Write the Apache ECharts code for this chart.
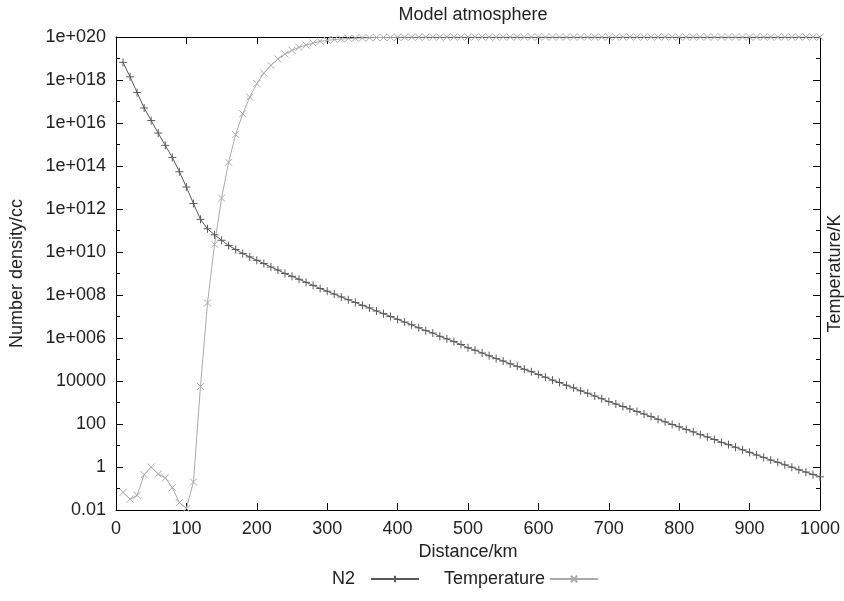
<!DOCTYPE html>
<html>
<head>
<meta charset="utf-8">
<script src="https://cdn.jsdelivr.net/npm/echarts@6/dist/echarts.min.js"></script>
<style>
  html, body { margin: 0; padding: 0; background: #fff; }
  #main { width: 844px; height: 601px; }
</style>
</head>
<body>
<div id="main"></div>
<script>
// 高度 (km)
var distance = [10, 20, 30, 40, 50, 60, 70, 80, 90, 100,
  110, 120, 130, 140, 150, 160, 170, 180, 190, 200,
  210, 220, 230, 240, 250, 260, 270, 280, 290, 300,
  310, 320, 330, 340, 350, 360, 370, 380, 390, 400,
  410, 420, 430, 440, 450, 460, 470, 480, 490, 500,
  510, 520, 530, 540, 550, 560, 570, 580, 590, 600,
  610, 620, 630, 640, 650, 660, 670, 680, 690, 700,
  710, 720, 730, 740, 750, 760, 770, 780, 790, 800,
  810, 820, 830, 840, 850, 860, 870, 880, 890, 900,
  910, 920, 930, 940, 950, 960, 970, 980, 990, 1000];

// N2 数密度 /cc
var n2 = [6.6e18, 1.4e18, 2.6e17, 5.0e16, 1.3e16, 3.4e15, 9.1e14, 2.5e14, 5.4e13, 1.05e13,
  1.8e12, 3.3e11, 1.2e11, 6.3e10, 3.5e10, 2.0e10, 1.3e10, 8.5e9, 5.9e9, 4.1e9,
  2.9e9, 2.0e9, 1.45e9, 1.0e9, 7.4e8, 5.4e8, 3.9e8, 2.8e8, 2.0e8, 1.5e8,
  1.1e8, 8.1e7, 6.0e7, 4.5e7, 3.3e7, 2.5e7, 1.8e7, 1.35e7, 1.0e7, 7.4e6,
  5.5e6, 4.1e6, 3.0e6, 2.2e6, 1.7e6, 1.2e6, 9.1e5, 6.8e5, 5.0e5, 3.5e5,
  2.7e5, 2.0e5, 1.5e5, 1.1e5, 8.5e4, 6.3e4, 4.8e4, 3.5e4, 2.7e4, 2.0e4,
  1.5e4, 1.1e4, 8.5e3, 6.3e3, 4.8e3, 3.5e3, 2.7e3, 2.0e3, 1.5e3, 1.1e3,
  850, 650, 500, 380, 290, 220, 166, 126, 95, 74,
  56, 43, 32, 25, 19, 14, 11, 8.3, 6.3, 4.8,
  3.6, 2.8, 2.1, 1.66, 1.26, 0.98, 0.74, 0.58, 0.45, 0.35];

// 温度 (右轴)
var temperature = [0.066, 0.032, 0.048, 0.44, 1.0, 0.47, 0.31, 0.11, 0.022, 0.012,
  0.2, 5600, 4.3e7, 2.3e10, 3.2e12, 1.5e14, 2.9e15, 2.7e16, 1.6e17, 6.8e17,
  2.1e18, 4.8e18, 9.5e18, 1.6e19, 2.4e19, 3.3e19, 4.2e19, 5.2e19, 6.3e19, 7.0e19,
  7.6e19, 8.1e19, 8.5e19, 8.8e19, 9.0e19, 9.2e19, 9.4e19, 9.5e19, 9.6e19, 9.7e19,
  9.75e19, 9.8e19, 9.82e19, 9.85e19, 9.87e19, 9.89e19, 9.9e19, 9.91e19, 9.92e19, 9.93e19,
  9.94e19, 9.94e19, 9.94e19, 9.94e19, 9.94e19, 9.95e19, 9.95e19, 9.95e19, 9.95e19, 9.95e19,
  9.96e19, 9.96e19, 9.96e19, 9.96e19, 9.96e19, 9.97e19, 9.97e19, 9.97e19, 9.97e19, 9.97e19,
  9.98e19, 9.98e19, 9.98e19, 9.98e19, 9.98e19, 9.98e19, 9.98e19, 9.98e19, 9.98e19, 9.98e19,
  9.99e19, 9.99e19, 9.99e19, 9.99e19, 9.99e19, 9.99e19, 9.99e19, 9.99e19, 9.99e19, 9.99e19,
  9.99e19, 9.99e19, 9.99e19, 9.99e19, 9.99e19, 1e20, 1e20, 1e20, 1e20, 1e20];

var yMin = 0.01, yMax = 1e20;
var fontFam = '"Liberation Sans", Arial, sans-serif';
var textCol = '#222';
var fs = 18;

function pairs(xs, ys) {
  var out = [];
  for (var i = 0; i < xs.length; i++) out.push([xs[i], ys[i]]);
  return out;
}

// 1e+020 样式的刻度标签
function fmtY(v) {
  var e = Math.round(Math.log(v) / Math.LN10);
  if (e >= 6) return '1e+' + ('00' + e).slice(-3);
  return String(Math.pow(10, e));
}

function logAxis(pos, interval, tickLen, showLine, showLabel) {
  return {
    type: 'log', logBase: 10, min: yMin, max: yMax, interval: interval,
    position: pos,
    axisLine: { show: showLine, lineStyle: { color: '#000', width: 1 } },
    axisTick: { show: true, inside: true, length: tickLen, lineStyle: { color: '#000', width: 1 } },
    axisLabel: { show: showLabel, formatter: fmtY, margin: 10, color: textCol, fontSize: fs, fontFamily: fontFam },
    splitLine: { show: false }
  };
}

var plusPath = 'path://M0,5L10,5M5,0L5,10';
var crossPath = 'path://M0,0L10,10M10,0L0,10';

var chart = echarts.init(document.getElementById('main'));
var option = {
  animation: false,
  backgroundColor: '#fff',
  title: {
    text: 'Model atmosphere', left: 468, top: 1, textAlign: 'center',
    textStyle: { fontSize: fs, fontWeight: 'normal', color: textCol, fontFamily: fontFam }
  },
  legend: {
    top: 565, left: 327, align: 'right',
    itemWidth: 48, itemHeight: 8, itemGap: 24,
    textStyle: { fontSize: fs, color: textCol, fontFamily: fontFam },
    data: [
      { name: 'N2', textStyle: { padding: [0, 11, 0, 0] } },
      { name: 'Temperature', textStyle: { padding: [0, 0, 0, 0] } }
    ]
  },
  grid: { left: 116, right: 24, top: 37, bottom: 91, outerBoundsMode: 'none' },
  xAxis: [
    {
      type: 'value', min: 0, max: 1000, interval: 100, position: 'bottom',
      name: 'Distance/km', nameLocation: 'middle', nameGap: 33,
      nameTextStyle: { fontSize: fs, color: textCol, fontFamily: fontFam },
      axisLine: { lineStyle: { color: '#000', width: 1 } },
      axisTick: { inside: true, length: 7, lineStyle: { color: '#000' } },
      axisLabel: { margin: 10, color: textCol, fontSize: fs, fontFamily: fontFam,
        formatter: function (v) { return String(v); } },
      splitLine: { show: false }
    },
    {
      type: 'value', min: 0, max: 1000, interval: 100, position: 'top',
      axisLine: { lineStyle: { color: '#000', width: 1 } },
      axisTick: { inside: true, length: 7, lineStyle: { color: '#000' } },
      axisLabel: { show: false },
      splitLine: { show: false }
    }
  ],
  yAxis: [
    Object.assign(logAxis('left', 2, 7, true, true), {
      name: 'Number density/cc', nameLocation: 'middle', nameGap: 90, nameRotate: 90,
      nameTextStyle: { fontSize: fs, color: textCol, fontFamily: fontFam }
    }),
    logAxis('left', 1, 4, false, false),
    Object.assign(logAxis('right', 2, 7, true, false), {
      name: 'Temperature/K', nameLocation: 'middle', nameGap: 6, nameRotate: 90,
      nameTextStyle: { fontSize: fs, color: textCol, fontFamily: fontFam }
    }),
    logAxis('right', 1, 4, false, false)
  ],
  series: [
    {
      name: 'N2', type: 'line', xAxisIndex: 0, yAxisIndex: 0,
      data: pairs(distance, n2),
      symbol: plusPath, symbolSize: 8, showAllSymbol: true,
      lineStyle: { color: '#5a5a5a', width: 1 },
      itemStyle: { color: '#5a5a5a', borderColor: '#5a5a5a', borderWidth: 1 }
    },
    {
      name: 'Temperature', type: 'line', xAxisIndex: 0, yAxisIndex: 2,
      data: pairs(distance, temperature),
      symbol: crossPath, symbolSize: 7, showAllSymbol: true,
      lineStyle: { color: '#aaaaaa', width: 1 },
      itemStyle: { color: '#aaaaaa', borderColor: '#aaaaaa', borderWidth: 1 }
    }
  ]
};
chart.setOption(option);
</script>
</body>
</html>
